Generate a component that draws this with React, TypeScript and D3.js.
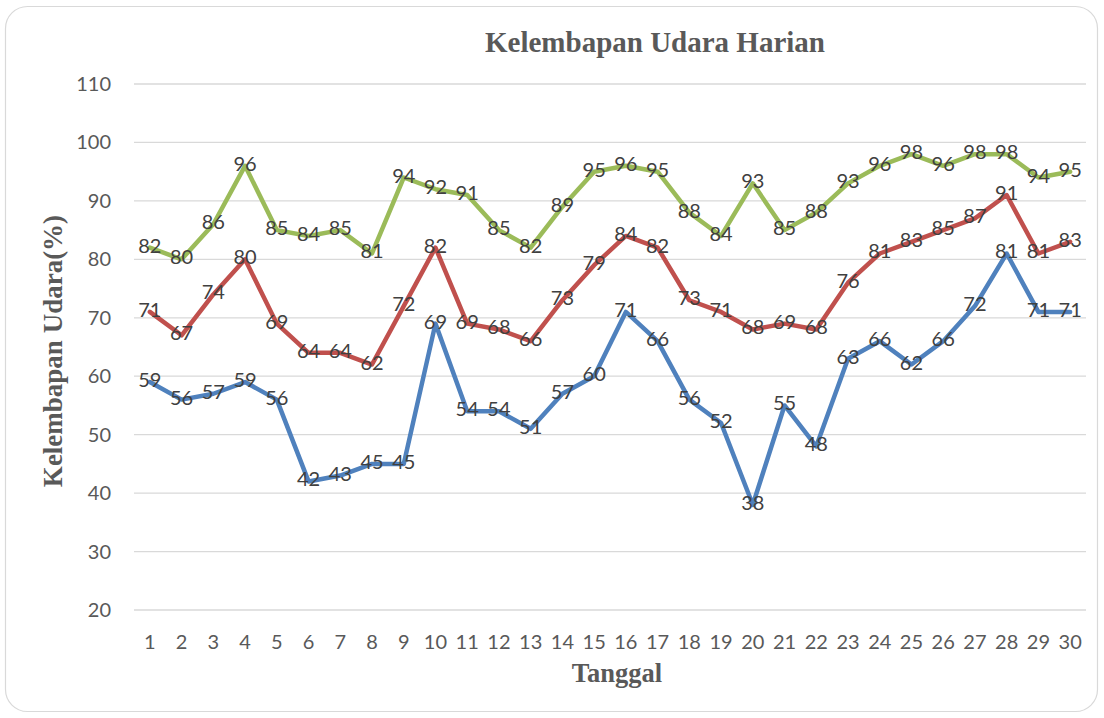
import { useEffect, useRef } from 'react';
import * as d3 from 'd3';

const days = d3.range(1, 31).map(String);
const maxValues = [82, 80, 86, 96, 85, 84, 85, 81, 94, 92, 91, 85, 82, 89, 95, 96, 95, 88, 84, 93, 85, 88, 93, 96, 98, 96, 98, 98, 94, 95];
const avgValues = [71, 67, 74, 80, 69, 64, 64, 62, 72, 82, 69, 68, 66, 73, 79, 84, 82, 73, 71, 68, 69, 68, 76, 81, 83, 85, 87, 91, 81, 83];
const minValues = [59, 56, 57, 59, 56, 42, 43, 45, 45, 69, 54, 54, 51, 57, 60, 71, 66, 56, 52, 38, 55, 48, 63, 66, 62, 66, 72, 81, 71, 71];
const yTicks = [20, 30, 40, 50, 60, 70, 80, 90, 100, 110];

const series = [
  { name: 'Minimum', values: minValues, color: '#4F81BD' },
  { name: 'Rata-rata', values: avgValues, color: '#C0504D' },
  { name: 'Maksimum', values: maxValues, color: '#9BBB59' },
];

const W = 1104;
const H = 718;

const App = () => {
  const svgRef = useRef<SVGSVGElement | null>(null);

  useEffect(() => {
    if (!svgRef.current) return;
    const svg = d3.select(svgRef.current);
    svg.selectAll('*').remove();

    const left = 134, right = 1086, top = 84, bottom = 610;

    const x = d3.scaleBand().domain(days).range([left, right]);
    const y = d3.scaleLinear().domain([20, 110]).range([bottom, top]);

    // chart border
    svg.append('rect')
      .attr('x', 5.5).attr('y', 6.5)
      .attr('width', W - 12).attr('height', H - 13)
      .attr('rx', 22)
      .attr('fill', '#fff')
      .attr('stroke', '#D9D9D9')
      .attr('stroke-width', 1.2);

    // gridlines
    svg.append('g').selectAll('line')
      .data(yTicks).enter().append('line')
      .attr('x1', left).attr('x2', right)
      .attr('y1', d => y(d)).attr('y2', d => y(d))
      .attr('stroke', '#D9D9D9').attr('stroke-width', 1.3);

    // y tick labels
    svg.append('g').selectAll('text')
      .data(yTicks).enter().append('text')
      .attr('x', 111).attr('y', d => y(d))
      .attr('dy', '0.35em')
      .attr('text-anchor', 'end')
      .attr('font-family', 'Lato, sans-serif')
      .attr('font-size', 20)
      .attr('fill', '#595959')
      .text(d => d);

    // x tick labels
    svg.append('g').selectAll('text')
      .data(days).enter().append('text')
      .attr('x', d => x(d)! + x.bandwidth() / 2)
      .attr('y', 642)
      .attr('dy', '0.35em')
      .attr('text-anchor', 'middle')
      .attr('font-family', 'Lato, sans-serif')
      .attr('font-size', 20)
      .attr('fill', '#595959')
      .text(d => d);

    const line = d3.line<number>()
      .x((_, i) => x(days[i])! + x.bandwidth() / 2)
      .y(d => y(d));

    series.forEach(s => {
      svg.append('path')
        .datum(s.values)
        .attr('d', line)
        .attr('fill', 'none')
        .attr('stroke', s.color)
        .attr('stroke-width', 4.5)
        .attr('stroke-linejoin', 'round')
        .attr('stroke-linecap', 'round');
    });

    // data labels
    series.forEach(s => {
      svg.append('g').selectAll('text')
        .data(s.values).enter().append('text')
        .attr('x', (_, i) => x(days[i])! + x.bandwidth() / 2)
        .attr('y', d => y(d) - 2)
        .attr('dy', '0.35em')
        .attr('text-anchor', 'middle')
        .attr('font-family', 'Lato, sans-serif')
        .attr('font-size', 20)
        .attr('fill', '#404040')
        .text(d => d);
    });

    svg.append('text')
      .attr('x', 655).attr('y', 52)
      .attr('text-anchor', 'middle')
      .attr('font-family', '"Liberation Serif", serif')
      .attr('font-weight', 'bold')
      .attr('font-size', 29)
      .attr('fill', '#595959')
      .text('Kelembapan Udara Harian');

    svg.append('text')
      .attr('transform', 'translate(62,351) rotate(-90)')
      .attr('text-anchor', 'middle')
      .attr('font-family', '"Liberation Serif", serif')
      .attr('font-weight', 'bold')
      .attr('font-size', 27)
      .attr('fill', '#595959')
      .text('Kelembapan Udara(%)');

    svg.append('text')
      .attr('x', 617).attr('y', 682)
      .attr('text-anchor', 'middle')
      .attr('font-family', '"Liberation Serif", serif')
      .attr('font-weight', 'bold')
      .attr('font-size', 26.5)
      .attr('fill', '#595959')
      .text('Tanggal');
  }, []);

  return (
    <svg ref={svgRef} width={W} height={H} style={{ position: 'absolute', left: 0, top: 0 }}></svg>
  );
};

export default App;
